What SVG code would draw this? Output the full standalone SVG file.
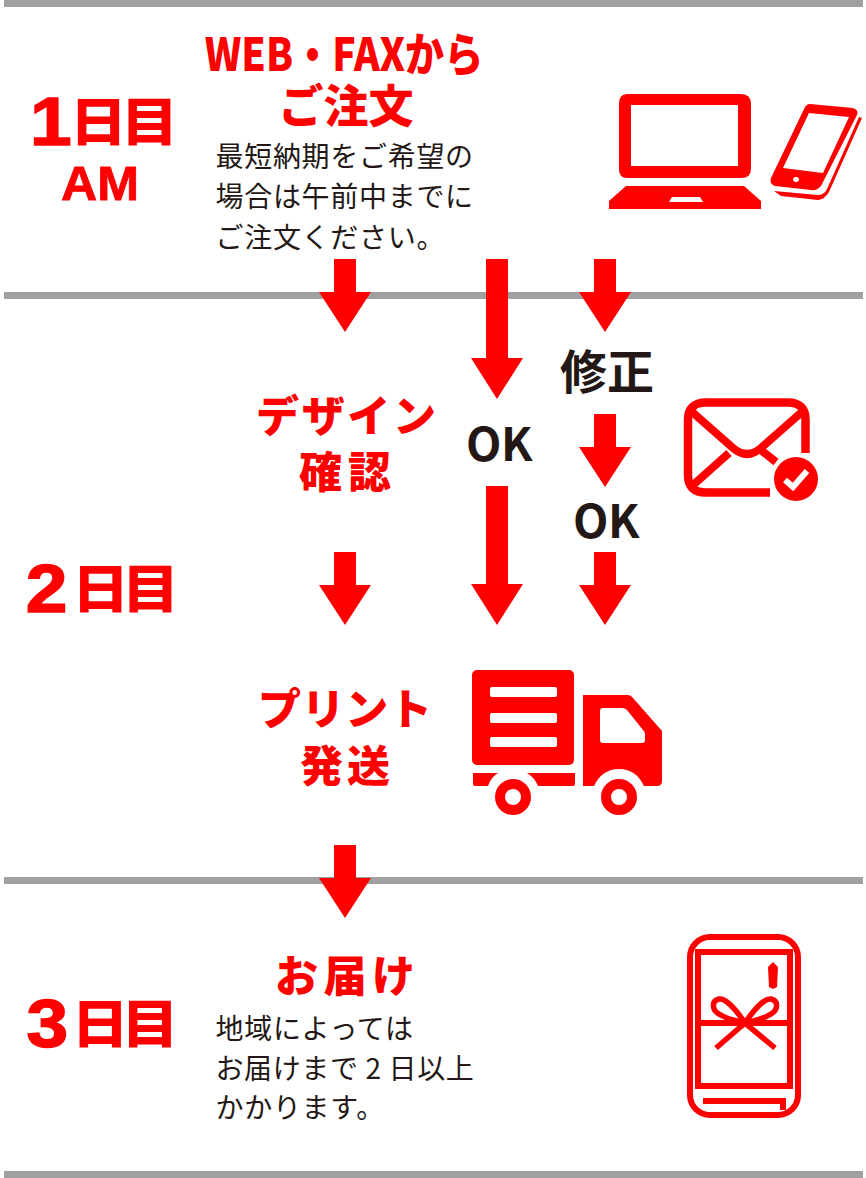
<svg xmlns="http://www.w3.org/2000/svg" width="866" height="1178" viewBox="0 0 866 1178">
<style>
.rule{fill:#a0a0a0}
.r{fill:#f00}
.w{fill:#fff}
.arrow{fill:#f00}
.s{fill:none;stroke:#f00}
text{font-family:"Noto Sans CJK JP","Noto Sans",sans-serif}
.h{fill:#f00;font-weight:900;font-size:43px;text-anchor:middle}
.day{fill:#f00;font-weight:900;font-size:52px}
.num{font-family:"Liberation Sans",sans-serif;font-weight:700;font-size:68px;stroke:#f00;stroke-width:1.5px}
.am{fill:#f00;font-family:"Liberation Sans",sans-serif;font-weight:700;font-size:49px;text-anchor:middle;stroke:#f00;stroke-width:.8px}
.b{fill:#231815;font-size:28px;font-weight:400;letter-spacing:.7px}
.k{fill:#231815;font-weight:700}
</style>
<defs>
<path id="a" d="M-11 0H11V33H26L0 73L-26 33H-11Z"/>
</defs>
<g id="rules">
<rect class="rule" x="4" y="0" width="859" height="7"/>
<rect class="rule" x="4" y="292" width="859" height="7"/>
<rect class="rule" x="4" y="877" width="859" height="7"/>
<rect class="rule" x="4" y="1171" width="859" height="7"/>
</g>
<g id="connectors">
<use href="#a" class="arrow" x="345" y="259"/>
<path class="arrow" d="M486 259H508V358H523L497 399L471 358H486Z"/>
<use href="#a" class="arrow" x="605" y="259"/>
<use href="#a" class="arrow" x="605" y="414"/>
<use href="#a" class="arrow" x="345" y="552"/>
<path class="arrow" d="M486 486H508V584H523L497 625L471 584H486Z"/>
<use href="#a" class="arrow" x="605" y="552"/>
<use href="#a" class="arrow" x="345" y="845"/>
</g>
<g id="day1">
<text class="day" transform="scale(1.1,1)"><tspan class="num" x="27.3" y="145">1</tspan><tspan x="63.5 109.9" y="141">日目</tspan></text>
<text class="am" x="100" y="200" textLength="78" lengthAdjust="spacingAndGlyphs">AM</text>
</g>
<g id="day2"><text class="day" transform="scale(1.1,1)"><tspan class="num" x="23.5" y="612">2</tspan><tspan x="65.4 110.8" y="608">日目</tspan></text></g>
<g id="day3"><text class="day" transform="scale(1.1,1)"><tspan class="num" x="24" y="1047">3</tspan><tspan x="65 110.5" y="1043">日目</tspan></text></g>
<g id="order">
<text class="h" transform="translate(344,71) scale(.85,1)" style="font-size:46px">WEB・FAXから</text>
<text class="h" x="346" y="123" style="font-size:45px">ご注文</text>
<text class="b" x="215.500" y="167">最短納期をご希望の</text>
<text class="b" x="215.500" y="207">場合は午前中までに</text>
<text class="b" x="215.500" y="248">ご注文ください。</text>
</g>
<g id="design-check">
<text class="h" x="346" y="432" textLength="180">デザイン</text>
<text class="h" x="345" y="488" textLength="92">確認</text>
</g>
<g id="ok1"><text class="k" x="466 501" y="461" font-size="46">OK</text></g>
<g id="fix"><text class="k" x="560 607" y="389" font-size="47">修正</text></g>
<g id="ok2"><text class="k" x="573 608" y="538" font-size="46">OK</text></g>
<g id="print-ship">
<text class="h" x="345" y="725" textLength="174">プリント</text>
<text class="h" x="345" y="782" textLength="90">発送</text>
</g>
<g id="delivery">
<text class="h" x="345" y="992" textLength="140">お届け</text>
<text class="b" x="215.500" y="1039">地域によっては</text>
<text class="b" x="215.500" y="1079" textLength="259">お届けまで 2 日以上</text>
<text class="b" x="215.500" y="1118">かかります。</text>
</g>
<g id="pc-icon">
<path class="r" fill-rule="evenodd" d="M627 94H741Q751 94 751 104V169Q751 178 741 178H627Q619 178 619 169V104Q619 94 627 94ZM631 105V166H738V105Z"/>
<path class="r" fill-rule="evenodd" d="M626 186H744L761 201V209H609V201ZM672 197L669 202H703L700 197Z"/>
</g>
<g id="phone-icon">
<path class="r" fill-rule="evenodd" d="M810 104L853 108Q859 110 857 115L821 186Q817 191 811 190L775 186Q769 184 771 178L804 109Q806 104 810 104ZM809 113L783 168L823 173L849 117ZM796 177A3 2.500 0 1 0 796.100 177Z"/>
<path class="r" d="M859 117L862 118L829 192Q825 199 818 200L781 196L774 191L818 195Q824 195 827 189Z"/>
</g>
<g id="mail-icon">
<path class="s" stroke-width="8.500" d="M770 492.500H706Q688 492.500 688 475V420Q688 402.500 706 402.500H788Q805.500 402.500 805.500 420V453"/>
<path class="s" stroke-width="8" d="M691 411L733 448Q747 460 761 448L803 411M692 486L729 453M762 451L776 462"/>
<circle class="r" cx="796" cy="479" r="22"/>
<path fill="none" stroke="#fff" stroke-width="6" d="M785 480L793 487L807 471"/>
</g>
<g id="truck-icon">
<rect class="r" x="472" y="670" width="102" height="95" rx="5"/>
<rect class="w" x="490" y="687" width="67" height="10" rx="2"/>
<rect class="w" x="490" y="713" width="67" height="10" rx="2"/>
<rect class="w" x="490" y="737" width="67" height="10" rx="2"/>
<path class="r" d="M473 773H498Q491 777 488 786H475Q473 786 473 784Z"/>
<path class="r" d="M527 773H575V784Q575 786 573 786H538Q535 778 527 773Z"/>
<path class="r" fill-rule="evenodd" d="M583 695H628Q631 695 633 698L662 731V781Q662 786 657 786H644Q636 769 619 769Q602 769 594 786H583ZM603 708Q600 708 600 711V740Q600 743 603 743H642Q645 743 645 740V734Q645 732 643 730L627 710Q625 708 622 708Z"/>
<circle class="s" cx="513" cy="797" r="13" stroke-width="10"/>
<circle class="s" cx="619" cy="797" r="13" stroke-width="10"/>
</g>
<g id="gift-phone-icon">
<rect class="s" x="690" y="937" width="108" height="178" rx="20" stroke-width="6"/>
<rect class="s" x="698" y="952" width="92" height="134" stroke-width="6"/>
<path class="s" d="M703 1101H783V1110" stroke-width="6"/>
<path class="s" d="M698 1023H790" stroke-width="6"/>
<path class="s" d="M716 1048L745 1023C735 1008 725 998 719 999C711 1001 712 1010 719 1014C727 1019 735 1021 745 1023C755 1008 765 998 771 999C779 1001 778 1010 771 1014C763 1019 755 1021 745 1023L775 1048" stroke-width="5.500"/>
<path class="r" d="M768 967L773 962L778 967L777 987L773 989L769 987Z"/>
</g>
</svg>
